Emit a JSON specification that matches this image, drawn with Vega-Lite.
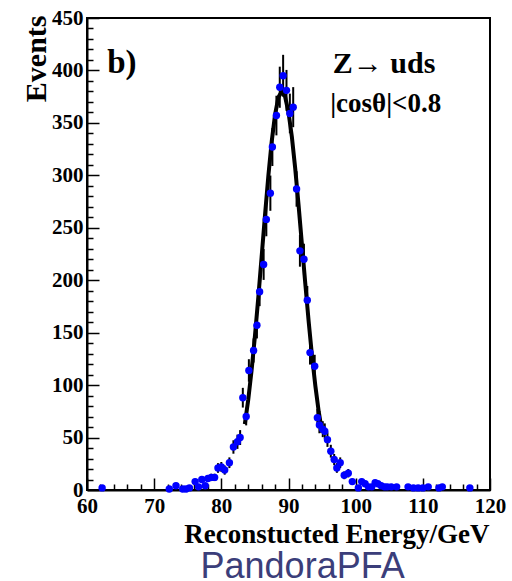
{
  "$schema": "https://vega.github.io/schema/vega-lite/v6.json",
  "width": 403,
  "height": 472,
  "autosize": {"type": "none"},
  "padding": {"left": 87, "top": 18, "right": 22, "bottom": 91},
  "background": "white",
  "config": {
    "view": {"stroke": "black", "strokeWidth": 2},
    "axis": {
      "labelFont": "Liberation Serif",
      "labelFontWeight": "bold",
      "labelFontSize": 21,
      "labelColor": "black",
      "labelFlush": false,
      "titleFont": "Liberation Serif",
      "titleFontWeight": "bold",
      "titleColor": "black",
      "domainColor": "black",
      "domainWidth": 2,
      "tickColor": "black",
      "tickWidth": 1.5,
      "grid": false
    }
  },
  "datasets": {
    "hist": [
      {"e": 62.25, "n": 2, "err": 1.4},
      {"e": 72.25, "n": 1, "err": 1},
      {"e": 73.25, "n": 4, "err": 2},
      {"e": 74.25, "n": 1, "err": 1},
      {"e": 74.75, "n": 1, "err": 1},
      {"e": 75.25, "n": 2, "err": 1.4},
      {"e": 76.1, "n": 8, "err": 2.8},
      {"e": 76.6, "n": 3, "err": 1.7},
      {"e": 77.1, "n": 10, "err": 3.2},
      {"e": 77.6, "n": 4, "err": 2},
      {"e": 78.0, "n": 11, "err": 3.3},
      {"e": 78.5, "n": 12, "err": 3.5},
      {"e": 79.0, "n": 12, "err": 3.5},
      {"e": 79.5, "n": 21, "err": 4.6},
      {"e": 80.0, "n": 22, "err": 4.7},
      {"e": 80.5, "n": 19, "err": 4.4},
      {"e": 81.2, "n": 26, "err": 5.1},
      {"e": 81.8, "n": 41, "err": 6.4},
      {"e": 82.4, "n": 46, "err": 6.8},
      {"e": 82.8, "n": 50, "err": 7.1},
      {"e": 83.2, "n": 88, "err": 9.4},
      {"e": 83.7, "n": 70, "err": 8.4},
      {"e": 84.1, "n": 114, "err": 10.7},
      {"e": 84.8, "n": 133, "err": 11.5},
      {"e": 85.3, "n": 157, "err": 12.5},
      {"e": 85.7, "n": 189, "err": 13.7},
      {"e": 86.3, "n": 215, "err": 14.7},
      {"e": 86.7, "n": 258, "err": 16.1},
      {"e": 87.3, "n": 283, "err": 16.8},
      {"e": 87.6, "n": 327, "err": 18.1},
      {"e": 88.2, "n": 357, "err": 18.9},
      {"e": 88.7, "n": 384, "err": 19.6},
      {"e": 89.2, "n": 395, "err": 19.9},
      {"e": 89.7, "n": 381, "err": 19.5},
      {"e": 90.2, "n": 359, "err": 18.9},
      {"e": 90.7, "n": 365, "err": 19.1},
      {"e": 91.2, "n": 287, "err": 16.9},
      {"e": 91.7, "n": 228, "err": 15.1},
      {"e": 92.3, "n": 220, "err": 14.8},
      {"e": 92.8, "n": 181, "err": 13.5},
      {"e": 93.2, "n": 131, "err": 11.4},
      {"e": 93.9, "n": 118, "err": 10.9},
      {"e": 94.3, "n": 69, "err": 8.3},
      {"e": 94.6, "n": 62, "err": 7.9},
      {"e": 95.1, "n": 58, "err": 7.6},
      {"e": 95.4, "n": 56, "err": 7.5},
      {"e": 95.8, "n": 48, "err": 6.9},
      {"e": 96.3, "n": 37, "err": 6.1},
      {"e": 96.8, "n": 29, "err": 5.4},
      {"e": 97.2, "n": 21, "err": 4.6},
      {"e": 97.7, "n": 26, "err": 5.1},
      {"e": 98.3, "n": 14, "err": 3.7},
      {"e": 98.9, "n": 16, "err": 4},
      {"e": 99.5, "n": 8, "err": 2.8},
      {"e": 100.4, "n": 2, "err": 1.4},
      {"e": 100.9, "n": 8, "err": 2.8},
      {"e": 101.4, "n": 6, "err": 2.4},
      {"e": 101.9, "n": 3, "err": 1.7},
      {"e": 102.4, "n": 3, "err": 1.7},
      {"e": 102.9, "n": 7, "err": 2.6},
      {"e": 103.3, "n": 6, "err": 2.4},
      {"e": 103.8, "n": 4, "err": 2},
      {"e": 104.3, "n": 3, "err": 1.7},
      {"e": 104.7, "n": 3, "err": 1.7},
      {"e": 105.3, "n": 3, "err": 1.7},
      {"e": 106.1, "n": 3, "err": 1.7},
      {"e": 107.8, "n": 3, "err": 1.7},
      {"e": 108.6, "n": 2, "err": 1.4},
      {"e": 109.3, "n": 2, "err": 1.4},
      {"e": 110.0, "n": 2, "err": 1.4},
      {"e": 110.8, "n": 3, "err": 1.7},
      {"e": 112.4, "n": 2, "err": 1.4},
      {"e": 112.9, "n": 3, "err": 1.7},
      {"e": 117.0, "n": 2, "err": 1.4}
    ],
    "fit": [
      {"e": 83.5, "f": 62.8},
      {"e": 84.0, "f": 85.8},
      {"e": 84.5, "f": 113.8},
      {"e": 85.0, "f": 146.6},
      {"e": 85.5, "f": 183.3},
      {"e": 86.0, "f": 222.4},
      {"e": 86.5, "f": 262.0},
      {"e": 87.0, "f": 299.5},
      {"e": 87.5, "f": 332.3},
      {"e": 88.0, "f": 358.0},
      {"e": 88.5, "f": 374.4},
      {"e": 89.0, "f": 380.0},
      {"e": 89.5, "f": 374.9},
      {"e": 90.0, "f": 360.1},
      {"e": 90.5, "f": 336.7},
      {"e": 91.0, "f": 306.5},
      {"e": 91.5, "f": 271.5},
      {"e": 92.0, "f": 234.2},
      {"e": 92.5, "f": 196.7},
      {"e": 93.0, "f": 160.8},
      {"e": 93.5, "f": 127.9},
      {"e": 94.0, "f": 99.1},
      {"e": 94.5, "f": 74.7},
      {"e": 95.0, "f": 54.9}
    ],
    "notes": [
      {"label": "b)", "e": 63, "n": 398},
      {"label": "Z→ uds", "e": 96.6, "n": 398},
      {"label": "|cosθ|<0.8", "e": 96.2, "n": 360}
    ]
  },
  "layer": [
    {
      "data": {"name": "hist"},
      "mark": {"type": "errorbar", "ticks": false, "color": "black", "thickness": 2},
      "encoding": {
        "x": {"field": "e", "type": "quantitative", "scale": {"domain": [60, 120], "nice": false},
              "axis": {"orient": "bottom", "values": [62,64,66,68,72,74,76,78,82,84,86,88,92,94,96,98,102,104,106,108,112,114,116,118], "labels": false, "domain": false, "tickSize": -6, "title": null}},
        "y": {"field": "n", "type": "quantitative", "scale": {"domain": [0, 450], "nice": false},
              "axis": {"orient": "left", "values": [10,20,30,40,60,70,80,90,110,120,130,140,160,170,180,190,210,220,230,240,260,270,280,290,310,320,330,340,360,370,380,390,410,420,430,440], "labels": false, "domain": false, "tickSize": -6, "title": null}},
        "yError": {"field": "err"}
      }
    },
    {
      "data": {"name": "fit"},
      "mark": {"type": "line", "color": "black", "strokeWidth": 4},
      "encoding": {
        "x": {"field": "e", "type": "quantitative", "scale": {"domain": [60, 120], "nice": false},
              "axis": {"orient": "bottom", "values": [60,70,80,90,100,110,120], "tickSize": -12, "labelPadding": 17, "title": "Reconstucted Energy/GeV", "titleFontSize": 27, "titleAnchor": "end", "titleAlign": "right", "titleBaseline": "alphabetic", "titleX": 402, "titleY": 52}},
        "y": {"field": "f", "type": "quantitative", "scale": {"domain": [0, 450], "nice": false},
              "axis": {"orient": "left", "values": [0,50,100,150,200,250,300,350,400,450], "tickSize": -12, "labelPadding": 16, "title": "Events", "titleFontSize": 30, "titleAngle": -90, "titleAlign": "right", "titleBaseline": "alphabetic", "titleX": -42, "titleY": -3}}
      }
    },
    {
      "data": {"name": "hist"},
      "mark": {"type": "circle", "color": "#0000ff", "opacity": 1, "size": 55},
      "encoding": {
        "x": {"field": "e", "type": "quantitative", "axis": null},
        "y": {"field": "n", "type": "quantitative", "axis": null}
      }
    },
    {
      "data": {"name": "notes"},
      "transform": [{"filter": "datum.label === 'b)'"}],
      "mark": {"type": "text", "font": "Liberation Serif", "fontWeight": "bold", "fontSize": 33, "align": "left", "baseline": "alphabetic", "color": "black"},
      "encoding": {
        "x": {"field": "e", "type": "quantitative", "axis": null},
        "y": {"field": "n", "type": "quantitative", "axis": null},
        "text": {"field": "label"}
      }
    },
    {
      "data": {"name": "notes"},
      "transform": [{"filter": "datum.label === 'Z→ uds'"}],
      "mark": {"type": "text", "font": "Liberation Serif", "fontWeight": "bold", "fontSize": 30, "align": "left", "baseline": "alphabetic", "color": "black"},
      "encoding": {
        "x": {"field": "e", "type": "quantitative", "axis": null},
        "y": {"field": "n", "type": "quantitative", "axis": null},
        "text": {"field": "label"}
      }
    },
    {
      "data": {"name": "notes"},
      "transform": [{"filter": "datum.label === '|cosθ|<0.8'"}],
      "mark": {"type": "text", "font": "Liberation Serif", "fontWeight": "bold", "fontSize": 27, "align": "left", "baseline": "alphabetic", "color": "black"},
      "encoding": {
        "x": {"field": "e", "type": "quantitative", "axis": null},
        "y": {"field": "n", "type": "quantitative", "axis": null},
        "text": {"field": "label"}
      }
    },
    {
      "data": {"values": [{"label": "PandoraPFA", "e": 92.1, "n": -84}]},
      "mark": {"type": "text", "font": "Liberation Sans", "fontSize": 36, "align": "center", "baseline": "alphabetic", "color": "#3b3e7a"},
      "encoding": {
        "x": {"field": "e", "type": "quantitative", "axis": null},
        "y": {"field": "n", "type": "quantitative", "axis": null},
        "text": {"field": "label"}
      }
    }
  ],
  "resolve": {"axis": {"x": "independent", "y": "independent"}}
}
